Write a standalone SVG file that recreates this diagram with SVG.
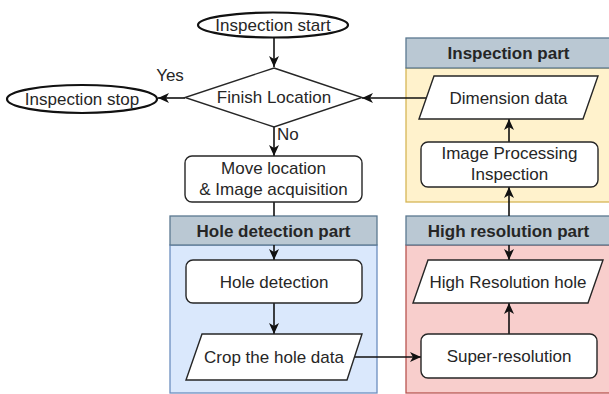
<svg xmlns="http://www.w3.org/2000/svg" width="609" height="394" viewBox="0 0 609 394">
<style>
text{font-family:"Liberation Sans",Arial,sans-serif;font-size:17px;fill:#262626;text-anchor:middle}
.hdr{font-weight:bold}
.node{fill:#ffffff;stroke:#262626;stroke-width:1.4}
.term{fill:#ffffff;stroke:#111111;stroke-width:2.2}
.edge{fill:none;stroke:#111111;stroke-width:1.6}
.hb{fill:#bac8d3;stroke:#5b7890;stroke-width:1.3}
</style>
<defs>
<marker id="arr" markerUnits="userSpaceOnUse" markerWidth="12" markerHeight="12" viewBox="0 0 12 12" refX="11" refY="6" orient="auto-start-reverse">
<path d="M0,1 L11,6 L0,11 L3,6 Z" fill="#111111"/>
</marker>
</defs>

<g id="hole-detection-part">
<rect x="170" y="245" width="207" height="148" fill="#dae8fc" stroke="#6c8ebf" stroke-width="1.3"/>
<rect class="hb" x="170" y="216" width="207" height="29"/>
<text class="hdr" x="273.5" y="236.5">Hole detection part</text>
</g>
<g id="high-resolution-part">
<rect x="406" y="245" width="206" height="148" fill="#f8cecc" stroke="#b85450" stroke-width="1.3"/>
<rect class="hb" x="406" y="216" width="206" height="29"/>
<text class="hdr" x="508.5" y="236.5">High resolution part</text>
</g>
<g id="inspection-part">
<rect x="406" y="68" width="206" height="134" fill="#fff2cc" stroke="#d6b656" stroke-width="1.3"/>
<rect class="hb" x="406" y="38" width="206" height="30"/>
<text class="hdr" x="508.5" y="59">Inspection part</text>
</g>

<g id="connectors">
<path class="edge" d="M274 37 V67" marker-end="url(#arr)"/>
<path class="edge" d="M185 98 H158" marker-end="url(#arr)"/>
<path class="edge" d="M274 127 V156" marker-end="url(#arr)"/>
<path class="edge" d="M274 202 V216 M274 245 V260" marker-end="url(#arr)"/>
<path class="edge" d="M274 303 V334" marker-end="url(#arr)"/>
<path class="edge" d="M354 357 H421" marker-end="url(#arr)"/>
<path class="edge" d="M509 334 V303" marker-end="url(#arr)"/>
<path class="edge" d="M509 260 V245 M509 216 V187" marker-start="url(#arr)" marker-end="url(#arr)"/>
<path class="edge" d="M509 142 V119" marker-end="url(#arr)"/>
<path class="edge" d="M427 98 H362" marker-end="url(#arr)"/>
<text x="170" y="81">Yes</text>
<text x="277" y="140" style="text-anchor:start">No</text>
</g>

<g id="inspection-start">
<ellipse class="term" cx="273" cy="25" rx="75" ry="12.5"/>
<text x="273" y="31">Inspection start</text>
</g>
<g id="finish-location">
<polygon class="node" points="274,68 362,97.5 274,127 185,97.5"/>
<text x="274" y="103">Finish Location</text>
</g>
<g id="inspection-stop">
<ellipse class="term" cx="82" cy="99" rx="75" ry="14"/>
<text x="82" y="105">Inspection stop</text>
</g>
<g id="move-location">
<rect class="node" x="185" y="156" width="177" height="46" rx="7"/>
<text x="273.5" y="174">Move location</text>
<text x="273.5" y="195">&amp; Image acquisition</text>
</g>
<g id="hole-detection">
<rect class="node" x="186" y="260" width="176" height="43" rx="7"/>
<text x="274" y="287.5">Hole detection</text>
</g>
<g id="crop-hole-data">
<polygon class="node" points="202,334 362,334 347,380 186,380"/>
<text x="274" y="363">Crop the hole data</text>
</g>
<g id="super-resolution">
<rect class="node" x="421" y="334" width="176" height="44" rx="7"/>
<text x="509" y="362">Super-resolution</text>
</g>
<g id="high-resolution-hole">
<polygon class="node" points="428,260 603,260 588,303 413,303"/>
<text x="508" y="287.5">High Resolution hole</text>
</g>
<g id="image-processing">
<rect class="node" x="421" y="142" width="177" height="45" rx="7"/>
<text x="509.5" y="159">Image Processing</text>
<text x="509.5" y="180">Inspection</text>
</g>
<g id="dimension-data">
<polygon class="node" points="434,76 598,76 583,119 419,119"/>
<text x="508.5" y="103.5">Dimension data</text>
</g>
</svg>
